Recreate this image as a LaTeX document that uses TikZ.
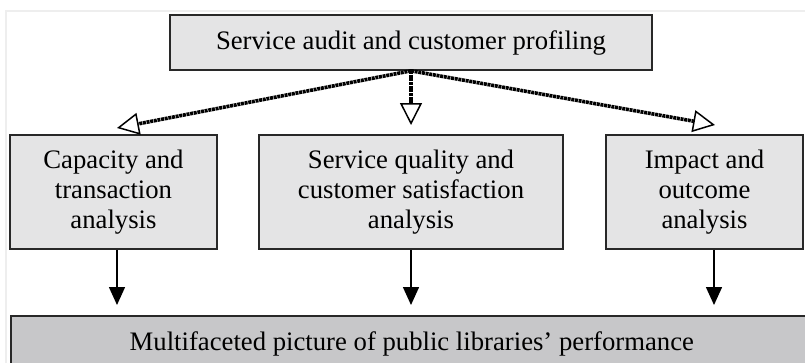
\documentclass[tikz,border=0pt]{standalone}
\usepackage{fontspec}
\setmainfont{Liberation Serif}
\usetikzlibrary{arrows.meta}
\definecolor{boxlight}{RGB}{228,228,229}
\definecolor{boxdark}{RGB}{199,199,201}
\definecolor{edge}{RGB}{40,40,40}
\definecolor{frameline}{RGB}{238,238,238}
\begin{document}
\begin{tikzpicture}[x=1pt,y=-1pt,
  box/.style={draw=edge, line width=1.6pt, fill=boxlight, inner sep=0pt,
    align=center, font=\fontsize{26.7}{30}\selectfont},
  split/.style={draw=black, line width=3.6pt, dash pattern=on 3pt off 0.7pt,
    -{Triangle[open, length=22pt, width=22pt, line width=1.5pt]}},
  down/.style={draw=black, line width=1.5pt,
    -{Triangle[length=18pt, width=16pt]}}]
  \useasboundingbox (0,0) rectangle (805,362);
  \clip (0,0) rectangle (805,362);
  % faint page frame
  \draw[frameline, line width=1.5pt] (6,380) -- (6,11) -- (820,11);

  % boxes
  \node[box, minimum width=482, minimum height=55] (audit) at (411,42.5)
    {Service audit and customer profiling};
  \node[box, minimum width=207, minimum height=114] (cap) at (113.5,192)
    {Capacity and\\transaction\\analysis};
  \node[box, minimum width=304, minimum height=114] (qual) at (411,192)
    {Service quality and\\customer satisfaction\\analysis};
  \node[box, minimum width=197, minimum height=114] (imp) at (704.5,192)
    {Impact and\\outcome\\analysis};
  \node[box, fill=boxdark, anchor=north west, minimum width=802, minimum height=56] (perf)
    at (10,315) {Multifaceted picture of public libraries' performance};

  % arrow end points
  \coordinate (capin) at (117,128);
  \coordinate (qualin) at (411,125);
  \coordinate (impin) at (715,125);
  \coordinate (capout) at (117,305);
  \coordinate (qualout) at (411,305);
  \coordinate (impout) at (714,305);

  % connectors from the audit box
  \draw[split] (audit.south) -- (capin);
  \draw[split] (audit.south) -- (qualin);
  \draw[split] (audit.south) -- (impin);

  % connectors into the bottom box
  \draw[down] (cap.south -| capout) -- (capout);
  \draw[down] (qual.south -| qualout) -- (qualout);
  \draw[down] (imp.south -| impout) -- (impout);
\end{tikzpicture}
\end{document}
